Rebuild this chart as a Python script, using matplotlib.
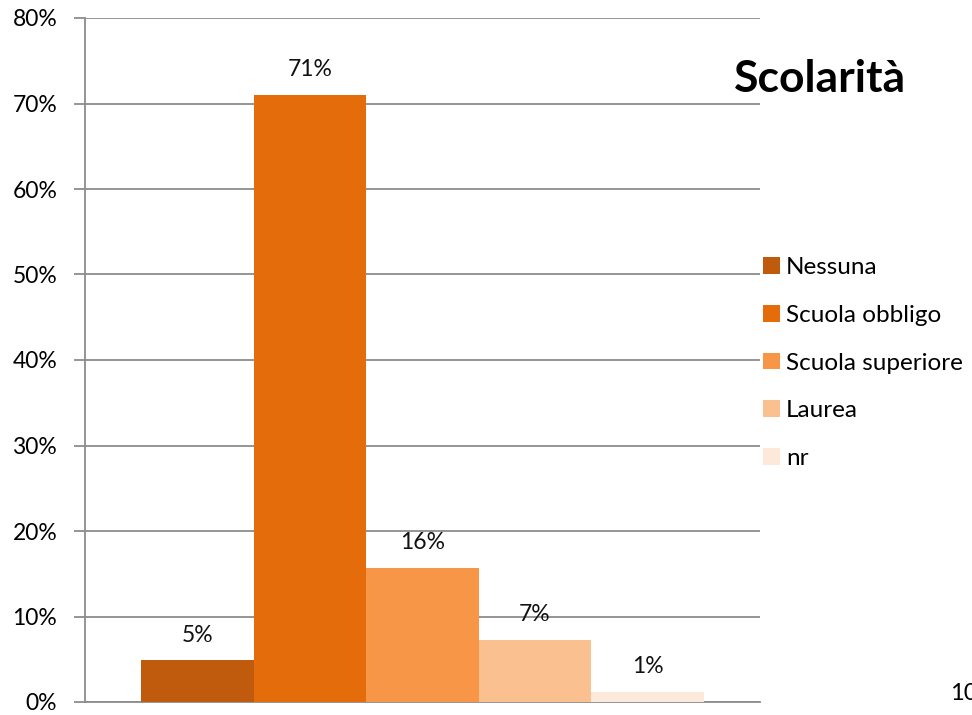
import matplotlib.pyplot as plt
from matplotlib.patches import Patch

categories = ["Nessuna", "Scuola obbligo", "Scuola superiore", "Laurea", "nr"]
values = [4.9, 71.0, 15.7, 7.3, 1.2]
colors = ["#C05A0C", "#E46C0A", "#F79646", "#FAC090", "#FDE9D9"]
yticks = [0, 10, 20, 30, 40, 50, 60, 70, 80]

plt.rcParams["font.family"] = ["Lato", "DejaVu Sans"]

fig = plt.figure(figsize=(9.72, 7.15), dpi=100)
ax = fig.add_axes([85 / 972, 1 - 702 / 715, 675 / 972, 684 / 715])

grid_c = "#8C8C8C"
for i, (v, c) in enumerate(zip(values, colors)):
    ax.bar(i + 0.5, v, width=1.0, color=c, zorder=3)
    ax.text(i + 0.5, v + 1.7, f"{round(v)}%", ha="center", va="bottom",
            fontsize=16.5, color="#111111")

ax.set_xlim(-0.5, 5.5)
ax.set_ylim(0, 80)
ax.set_yticks(yticks)
ax.set_yticklabels([f"{t}%" for t in yticks], fontsize=16.5)
ax.set_xticks([])
ax.yaxis.grid(True, color=grid_c, linewidth=1.3, zorder=0)
ax.tick_params(axis="y", length=8, width=1.3, color=grid_c, pad=12)
for side in ["top", "right"]:
    ax.spines[side].set_visible(False)
for side in ["left", "bottom"]:
    ax.spines[side].set_color(grid_c)
    ax.spines[side].set_linewidth(1.3)

fig.text(734 / 972, 1 - 79 / 715, "Scolarità", fontsize=32, fontweight="bold",
         va="center", ha="left")

handles = [Patch(facecolor=c, edgecolor="none") for c in colors]
fig.legend(handles, categories, loc="upper left",
           bbox_to_anchor=(751 / 972, 1 - 245 / 715), frameon=False,
           fontsize=17.5, handlelength=0.68, handleheight=0.68,
           handletextpad=0.25, labelspacing=1.1, borderpad=0)

fig.text(950 / 972, 1 - 694 / 715, "10", fontsize=17, va="center", ha="left")

fig.savefig("out.png", dpi=100)
